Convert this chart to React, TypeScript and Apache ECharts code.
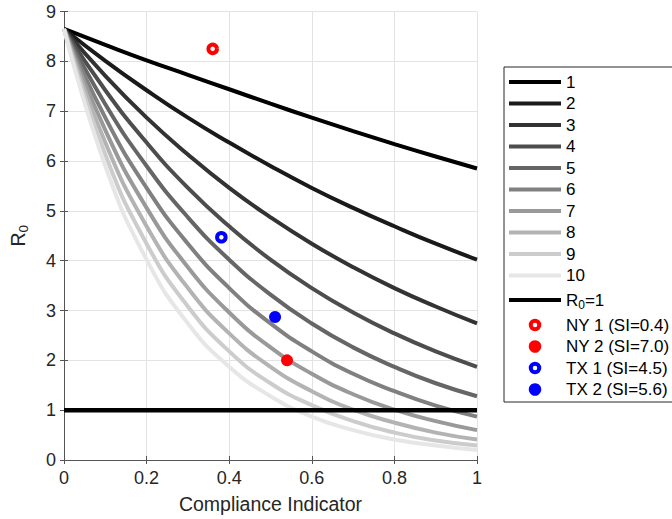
import React, { useEffect, useRef } from "react";
import * as echarts from "echarts";

const complianceX = [0, 0.1, 0.2, 0.3, 0.4, 0.5, 0.6, 0.7, 0.8, 0.9, 1.0];

const curve1 = [8.65, 8.33, 8.02, 7.73, 7.44, 7.15, 6.87, 6.6, 6.34, 6.09, 5.85];
const curve2 = [8.65, 8.01, 7.42, 6.87, 6.37, 5.9, 5.46, 5.06, 4.69, 4.34, 4.02];
const curve3 = [8.65, 7.71, 6.87, 6.13, 5.46, 4.87, 4.34, 3.87, 3.45, 3.08, 2.74];
const curve4 = [8.65, 7.42, 6.37, 5.46, 4.69, 4.02, 3.45, 2.96, 2.54, 2.18, 1.87];
const curve5 = [8.65, 7.14, 5.9, 4.87, 4.02, 3.32, 2.74, 2.26, 1.87, 1.54, 1.28];
const curve6 = [8.65, 6.87, 5.46, 4.34, 3.45, 2.74, 2.18, 1.73, 1.38, 1.09, 0.87];
const curve7 = [8.65, 6.62, 5.06, 3.87, 2.96, 2.26, 1.73, 1.32, 1.01, 0.78, 0.6];
const curve8 = [8.65, 6.37, 4.69, 3.45, 2.54, 1.87, 1.38, 1.01, 0.75, 0.55, 0.41];
const curve9 = [8.65, 6.13, 4.34, 3.08, 2.18, 1.54, 1.1, 0.78, 0.55, 0.39, 0.29];
const curve10 = [8.65, 5.9, 4.02, 2.74, 1.87, 1.28, 0.87, 0.6, 0.41, 0.29, 0.2];

const curveNames = ["1", "2", "3", "4", "5", "6", "7", "8", "9", "10"];
const curves = [curve1, curve2, curve3, curve4, curve5, curve6, curve7, curve8, curve9, curve10];
const curveColors = ["#000000", "#1a1a1a", "#333333", "#4d4d4d", "#666666", "#808080", "#999999", "#b3b3b3", "#cccccc", "#e6e6e6"];

const thresholdX = [0, 1];
const thresholdY = [1, 1];

const ny1 = [[0.36, 8.25]];
const ny2 = [[0.54, 2.0]];
const tx1 = [[0.381, 4.47]];
const tx2 = [[0.511, 2.87]];

const xTicks = { min: 0, max: 1, interval: 0.2 };
const yTicks = { min: 0, max: 9, interval: 1 };

const FONT = "'Liberation Sans', Arial, Helvetica, sans-serif";
const LINE_ICON = "path://M0,0H52V4H0Z";
const RING_ICON =
  "path://M12.5,6.25A6.25,6.25,0,1,0,0,6.25A6.25,6.25,0,1,0,12.5,6.25ZM8.5,6.25A2.25,2.25,0,1,1,4,6.25A2.25,2.25,0,1,1,8.5,6.25Z";

export default function App() {
  const ref = useRef<HTMLDivElement>(null);

  useEffect(() => {
    document.body.style.margin = "0";
    const chart = echarts.init(ref.current!, null, { renderer: "svg" });

    const lineSeries = curves.map((c, i) => ({
      name: curveNames[i],
      type: "line",
      data: complianceX.map((x, j) => [x, c[j]]),
      smooth: true,
      symbol: "none",
      lineStyle: { color: curveColors[i], width: 4 },
      itemStyle: { color: curveColors[i] },
      z: 2,
    }));

    const thresholdSeries = {
      name: "R0=1",
      type: "line",
      data: thresholdX.map((x, j) => [x, thresholdY[j]]),
      symbol: "none",
      lineStyle: { color: "#000000", width: 4.5 },
      itemStyle: { color: "#000000" },
      z: 3,
    };

    const ring = (name: string, data: number[][], color: string) => ({
      name,
      type: "scatter",
      data,
      symbol: "circle",
      symbolSize: 8.5,
      itemStyle: { color: "#ffffff", borderColor: color, borderWidth: 4, opacity: 1 },
      z: 4,
    });
    const dot = (name: string, data: number[][], color: string) => ({
      name,
      type: "scatter",
      data,
      symbol: "circle",
      symbolSize: 12,
      itemStyle: { color, opacity: 1 },
      z: 4,
    });

    const legendData: any[] = curveNames.map((n) => ({ name: n, icon: LINE_ICON }));
    legendData.push({ name: "R0=1", icon: LINE_ICON });
    legendData.push({ name: "NY 1 (SI=0.4)", icon: RING_ICON, itemStyle: { color: "#ff0000", borderWidth: 0 } });
    legendData.push({ name: "NY 2 (SI=7.0)", icon: "circle", itemStyle: { color: "#ff0000", borderWidth: 0 } });
    legendData.push({ name: "TX 1 (SI=4.5)", icon: RING_ICON, itemStyle: { color: "#0000ff", borderWidth: 0 } });
    legendData.push({ name: "TX 2 (SI=5.6)", icon: "circle", itemStyle: { color: "#0000ff", borderWidth: 0 } });

    const axisLine = { show: true, lineStyle: { color: "#555555", width: 1 } };
    const axisTick = { show: true, inside: true, length: 4, lineStyle: { color: "#555555" } };

    chart.setOption({
      animation: false,
      backgroundColor: "#ffffff",
      textStyle: { fontFamily: FONT },
      grid: { left: 54, right: 195, top: 11.5, bottom: 59, containLabel: false },
      legend: {
        orient: "vertical",
        left: 504,
        top: 67,
        itemWidth: 52,
        itemHeight: 12.5,
        itemGap: 4.5,
        padding: [6.5, 6, 4, 5],
        borderColor: "#262626",
        borderWidth: 1,
        backgroundColor: "#ffffff",
        selectedMode: false,
        itemStyle: { borderWidth: 0 },
        textStyle: {
          fontFamily: FONT,
          fontSize: 17,
          color: "#000000",
          rich: {
            r: { fontFamily: FONT, fontSize: 17, color: "#000", lineHeight: 24, padding: [3, 0, 3, 0] },
            s: { fontFamily: FONT, fontSize: 12, color: "#000", verticalAlign: "bottom", lineHeight: 12, padding: [0, 0, 1, 0] },
          },
        },
        formatter: (name: string) => (name === "R0=1" ? "{r|R}{s|0}{r|=1}" : name),
        data: legendData,
      },
      xAxis: [
        {
          type: "value",
          min: xTicks.min,
          max: xTicks.max,
          interval: xTicks.interval,
          position: "bottom",
          name: "Compliance Indicator",
          nameLocation: "middle",
          nameGap: 34,
          nameTextStyle: { fontFamily: FONT, fontSize: 19.5, color: "#262626" },
          axisLine,
          axisTick,
          axisLabel: { fontFamily: FONT, fontSize: 18, color: "#262626", margin: 9 },
          splitLine: { show: true, lineStyle: { color: "#e3e3e3", width: 1 } },
        },
        {
          type: "value",
          min: xTicks.min,
          max: xTicks.max,
          interval: xTicks.interval,
          position: "top",
          axisLine,
          axisTick,
          axisLabel: { show: false },
          splitLine: { show: false },
        },
      ],
      yAxis: [
        {
          type: "value",
          min: yTicks.min,
          max: yTicks.max,
          interval: yTicks.interval,
          position: "left",
          name: "{r|R}{s|0}",
          nameLocation: "middle",
          nameGap: 34,
          nameRotate: 90,
          nameTextStyle: {
            fontFamily: FONT,
            color: "#262626",
            rich: {
              r: { fontFamily: FONT, fontSize: 19.5, color: "#262626", lineHeight: 24 },
              s: { fontFamily: FONT, fontSize: 13.5, color: "#262626", verticalAlign: "bottom", lineHeight: 13 },
            },
          },
          axisLine,
          axisTick,
          axisLabel: { fontFamily: FONT, fontSize: 18, color: "#262626", margin: 8 },
          splitLine: { show: true, lineStyle: { color: "#e3e3e3", width: 1 } },
        },
        {
          type: "value",
          min: yTicks.min,
          max: yTicks.max,
          interval: yTicks.interval,
          position: "right",
          axisLine,
          axisTick,
          axisLabel: { show: false },
          splitLine: { show: false },
        },
      ],
      series: [
        ...lineSeries,
        thresholdSeries,
        ring("NY 1 (SI=0.4)", ny1, "#ff0000"),
        dot("NY 2 (SI=7.0)", ny2, "#ff0000"),
        ring("TX 1 (SI=4.5)", tx1, "#0000ff"),
        dot("TX 2 (SI=5.6)", tx2, "#0000ff"),
      ],
    });

    return () => chart.dispose();
  }, []);

  return <div ref={ref} style={{ position: "absolute", left: 0, top: 0, width: 672, height: 519 }} />;
}
